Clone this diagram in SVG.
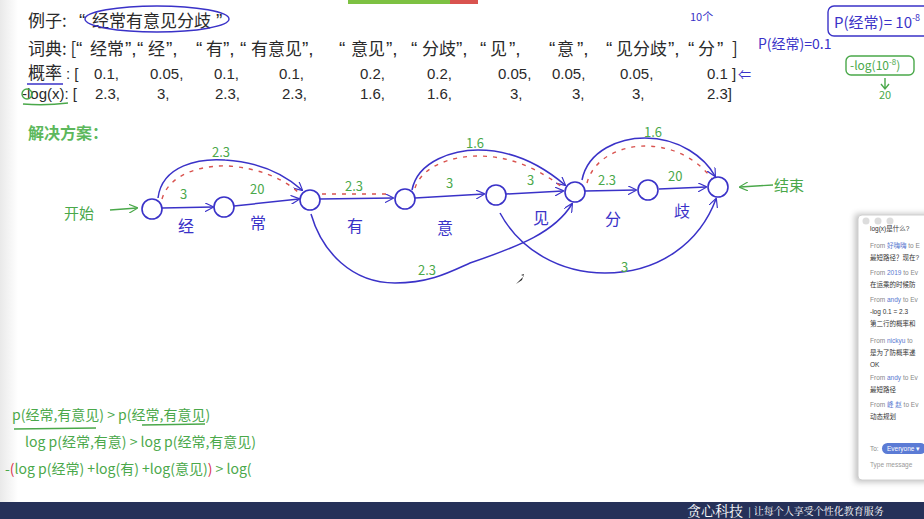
<svg xmlns="http://www.w3.org/2000/svg" width="924" height="519" viewBox="0 0 924 519">
<defs>
<style>
.cn{font-family:"Noto Sans CJK SC","Liberation Sans",sans-serif;fill:#2a2a2a;font-size:17px}
.q{font-family:"Liberation Sans",sans-serif;font-size:19px}
.num{font-family:"Liberation Sans","Noto Sans CJK SC",sans-serif;fill:#2a2a2a;font-size:15px}
.hb{font-family:"Noto Sans CJK SC",sans-serif;fill:#3a32c8}
.hg{font-family:"Noto Sans CJK SC",sans-serif;fill:#4aa84a}
.node{fill:#fff;stroke:#3a32c8;stroke-width:1.6}
.edge{fill:none;stroke:#3a32c8;stroke-width:1.5;marker-end:url(#ah)}
.red{fill:none;stroke:#d9534f;stroke-width:1.4;stroke-dasharray:4 6}
.gl{fill:none;stroke:#4aa84a;stroke-width:1.4}
.bl{fill:none;stroke:#3a32c8;stroke-width:1.4}
.chat{font-family:"Liberation Sans","Noto Sans CJK SC",sans-serif;font-size:6.5px;fill:#333}
.from{fill:#888}
.name{fill:#5a78d0}
</style>
<marker id="ah" viewBox="0 0 10 10" refX="9" refY="5" markerWidth="9" markerHeight="9" orient="auto" markerUnits="userSpaceOnUse">
<path d="M0,0 L10,5 L0,10" fill="none" stroke="#3a32c8" stroke-width="1.3"/>
</marker>
<marker id="ahg" viewBox="0 0 10 10" refX="9" refY="5" markerWidth="9" markerHeight="9" orient="auto" markerUnits="userSpaceOnUse">
<path d="M0,0 L10,5 L0,10" fill="none" stroke="#4aa84a" stroke-width="1.3"/>
</marker>
<linearGradient id="lg" x1="0" x2="1" y1="0" y2="0">
<stop offset="0" stop-color="#e9e9e9"/><stop offset="1" stop-color="#fff"/>
</linearGradient>
<filter id="sh" x="-20%" y="-10%" width="140%" height="120%"><feGaussianBlur stdDeviation="3"/></filter>
</defs>
<rect width="924" height="519" fill="#fff"/>
<rect width="18" height="502" fill="url(#lg)"/>
<rect x="348" y="0" width="102" height="4" fill="#7dc142"/>
<rect x="450" y="0" width="28" height="4" fill="#d9534f"/>

<!-- header text -->
<g id="header">
<text class="cn" y="27"><tspan x="28">例子:</tspan><tspan class="q" x="79">“</tspan><tspan x="92">经常有意见分歧</tspan><tspan class="q" x="216">”</tspan></text>
<ellipse cx="157" cy="19" rx="72" ry="13" class="bl"/>
<text class="cn" y="55"><tspan x="28">词典: [</tspan><tspan class="q" x="76">“</tspan><tspan x="90">经常</tspan><tspan class="q" x="125">”,</tspan><tspan class="q" x="137">“</tspan><tspan x="148">经</tspan><tspan class="q" x="166">”,</tspan><tspan class="q" x="196">“</tspan><tspan x="206">有</tspan><tspan class="q" x="223">”,</tspan><tspan class="q" x="240">“</tspan><tspan x="251">有意见</tspan><tspan class="q" x="302">”,</tspan><tspan class="q" x="339">“</tspan><tspan x="351">意见</tspan><tspan class="q" x="386">”,</tspan><tspan class="q" x="411">“</tspan><tspan x="422">分歧</tspan><tspan class="q" x="456">”,</tspan><tspan class="q" x="480">“</tspan><tspan x="490">见</tspan><tspan class="q" x="509">”,</tspan><tspan class="q" x="549">“</tspan><tspan x="557">意</tspan><tspan class="q" x="577">”,</tspan><tspan class="q" x="606">“</tspan><tspan x="616">见分歧</tspan><tspan class="q" x="668">”,</tspan><tspan class="q" x="688">“</tspan><tspan x="698">分</tspan><tspan class="q" x="717">”</tspan><tspan x="732">]</tspan></text>
<text class="cn" x="28" y="79">概率</text>
<path d="M27,84 L63,84" class="bl"/>
<text class="num" x="66" y="79">: [</text>
<text class="num" x="94" y="79">0.1,</text>
<text class="num" x="150" y="79">0.05,</text>
<text class="num" x="214" y="79">0.1,</text>
<text class="num" x="279" y="79">0.1,</text>
<text class="num" x="360" y="79">0.2,</text>
<text class="num" x="427" y="79">0.2,</text>
<text class="num" x="498" y="79">0.05,</text>
<text class="num" x="552" y="79">0.05,</text>
<text class="num" x="620" y="79">0.05,</text>
<text class="num" x="707" y="79">0.1 ]</text>
<text class="hb" x="738" y="79" font-size="13">⇐</text>
<text class="num" x="22" y="99">-log(x): [</text>
<circle cx="27" cy="94" r="5" class="gl"/>
<path d="M23,104 Q45,106 68,103" class="gl"/>
<text class="num" x="95" y="99">2.3,</text>
<text class="num" x="157" y="99">3,</text>
<text class="num" x="215" y="99">2.3,</text>
<text class="num" x="282" y="99">2.3,</text>
<text class="num" x="360" y="99">1.6,</text>
<text class="num" x="427" y="99">1.6,</text>
<text class="num" x="510" y="99">3,</text>
<text class="num" x="572" y="99">3,</text>
<text class="num" x="632" y="99">3,</text>
<text class="num" x="707" y="99">2.3]</text>
<text x="28" y="139" font-family="Noto Sans CJK SC,sans-serif" font-size="16" font-weight="bold" fill="#5cb85c">解决方案：</text>
</g>

<!-- top-right notes -->
<g id="notes">
<text class="hb" x="690" y="21" font-size="11">10个</text>
<text class="hb" x="758" y="49" font-size="14">P(经常)=0.1</text>
<rect x="828" y="6" width="104" height="30" rx="6" class="bl"/>
<text class="hb" x="834" y="28" font-size="15">P(经常)= 10<tspan font-size="9" dy="-7">-8</tspan></text>
<rect x="846" y="56" width="68" height="19" rx="5" class="gl"/>
<text class="hg" x="850" y="70" font-size="12">-log(10<tspan font-size="8" dy="-5">-8</tspan><tspan dy="5">)</tspan></text>
<path d="M885,78 L885,88 M881,84 L885,89 L889,84" class="gl"/>
<text class="hg" x="879" y="99" font-size="11">20</text>
</g>

<!-- connectors -->
<g id="connectors">
<path id="e-start" d="M110,210 L137,208" fill="none" stroke="#4aa84a" stroke-width="1.4" marker-end="url(#ahg)"/>
<path id="e-end" d="M773,185 L740,187" fill="none" stroke="#4aa84a" stroke-width="1.4" marker-end="url(#ahg)"/>
<path id="e01" class="edge" d="M162,208 L213,207"/>
<path id="e12" class="edge" d="M234,206 L299,199"/>
<path id="e02" class="edge" d="M158,198 C162,165 200,158 225,160 C260,162 285,175 302,190"/>
<path class="red" d="M162,199 C170,172 205,165 228,166 C258,168 282,178 298,192"/>
<path id="e23" class="edge" d="M320,199 L393,198"/>
<path class="red" d="M322,194 L390,194"/>
<path id="e34" class="edge" d="M415,198 L484,194"/>
<path id="e35" class="edge" d="M412,190 C418,160 455,150 478,150 C515,150 545,168 565,185"/>
<path class="red" d="M415,188 C422,166 452,156 478,156 C512,156 540,170 562,187"/>
<path id="e45" class="edge" d="M506,194 L563,191"/>
<path id="e56" class="edge" d="M585,191 L636,190"/>
<path id="e67" class="edge" d="M659,189 L706,187"/>
<path id="e57" class="edge" d="M582,180 C588,150 620,138 645,138 C680,138 705,158 715,176"/>
<path class="red" d="M587,183 C594,157 622,146 645,146 C676,146 700,162 713,180"/>
<path id="e25" class="edge" d="M311,214 C322,252 352,283 395,283 C430,283 450,272 470,263 C520,246 555,232 572,204"/>
<path id="e47" class="edge" d="M500,213 C520,250 560,273 605,273 C660,273 700,242 716,199"/>
</g>

<!-- nodes -->
<g id="n0"><circle cx="152" cy="209" r="10" class="node"/></g>
<g id="n1"><circle cx="224" cy="207" r="10" class="node"/></g>
<g id="n2"><circle cx="310" cy="200" r="10" class="node"/></g>
<g id="n3"><circle cx="405" cy="199" r="10" class="node"/></g>
<g id="n4"><circle cx="496" cy="195" r="10" class="node"/></g>
<g id="n5"><circle cx="575" cy="192" r="10" class="node"/></g>
<g id="n6"><circle cx="648" cy="190" r="10" class="node"/></g>
<g id="n7"><circle cx="718" cy="187" r="10" class="node"/></g>

<!-- labels -->
<g id="labels">
<text class="hg" x="64" y="219" font-size="15">开始</text>
<text class="hg" x="774" y="191" font-size="15">结束</text>
<text class="hg" x="180" y="199" font-size="13">3</text>
<text class="hg" x="250" y="194" font-size="13">20</text>
<text class="hg" x="212" y="157" font-size="13">2.3</text>
<text class="hg" x="345" y="191" font-size="13">2.3</text>
<text class="hg" x="446" y="188" font-size="13">3</text>
<text class="hg" x="466" y="148" font-size="13">1.6</text>
<text class="hg" x="527" y="185" font-size="13">3</text>
<text class="hg" x="598" y="185" font-size="13">2.3</text>
<text class="hg" x="668" y="181" font-size="13">20</text>
<text class="hg" x="644" y="137" font-size="13">1.6</text>
<text class="hg" x="418" y="275" font-size="13">2.3</text>
<text class="hg" x="621" y="272" font-size="13">3</text>
<text class="hb" x="178" y="232" font-size="16">经</text>
<text class="hb" x="250" y="229" font-size="16">常</text>
<text class="hb" x="347" y="232" font-size="16">有</text>
<text class="hb" x="437" y="234" font-size="16">意</text>
<text class="hb" x="533" y="224" font-size="16">见</text>
<text class="hb" x="605" y="225" font-size="16">分</text>
<text class="hb" x="674" y="217" font-size="16">歧</text>
</g>

<!-- bottom notes -->
<g id="bottom-notes">
<text class="hg" x="12" y="420" font-size="14">p(经常,有意见) &gt; p(经常,有意见)</text>
<path d="M14,429 L96,428" class="gl"/>
<path d="M142,425 L205,424" class="gl"/>
<text class="hg" x="25" y="447" font-size="14">log p(经常,有意) &gt; log p(经常,有意见)</text>
<text class="hg" x="5" y="474" font-size="14">-<tspan fill="#d9364f">(</tspan>log p(经常) +log(有) +log(意见)<tspan fill="#d9364f">)</tspan> &gt; log(</text>
</g>

<!-- cursor -->
<path d="M516,284 L524,276 L521,275 L524,274 L522,280 Z" fill="#222"/>

<!-- chat window -->
<g id="chat">
<rect x="855" y="214" width="80" height="268" fill="#000" opacity="0.25" filter="url(#sh)"/>
<rect x="858" y="215" width="70" height="265" rx="4" fill="#fff" stroke="#d0d0d0"/>
<circle cx="866" cy="221" r="3.5" fill="#ddd"/>
<circle cx="878" cy="221" r="3.5" fill="#ddd"/>
<circle cx="890" cy="221" r="3.5" fill="#ddd"/>
<text class="chat" x="870" y="231">log(x)是什么?</text>
<text class="chat" x="870" y="248"><tspan class="from">From </tspan><tspan class="name">好嗨嗨</tspan><tspan class="from"> to E</tspan></text>
<text class="chat" x="870" y="260">最短路径？现在?</text>
<text class="chat" x="870" y="275"><tspan class="from">From </tspan><tspan class="name">2019</tspan><tspan class="from"> to Ev</tspan></text>
<text class="chat" x="870" y="287">在运乘的时候防</text>
<text class="chat" x="870" y="302"><tspan class="from">From </tspan><tspan class="name">andy</tspan><tspan class="from"> to Ev</tspan></text>
<text class="chat" x="870" y="314">-log 0.1 = 2.3</text>
<text class="chat" x="870" y="326">第二行的概率和</text>
<text class="chat" x="870" y="343"><tspan class="from">From </tspan><tspan class="name">nickyu</tspan><tspan class="from"> to</tspan></text>
<text class="chat" x="870" y="355">是为了防概率递</text>
<text class="chat" x="870" y="367">OK</text>
<text class="chat" x="870" y="380"><tspan class="from">From </tspan><tspan class="name">andy</tspan><tspan class="from"> to Ev</tspan></text>
<text class="chat" x="870" y="392">最短路径</text>
<text class="chat" x="870" y="407"><tspan class="from">From </tspan><tspan class="name">峰 赵</tspan><tspan class="from"> to Ev</tspan></text>
<text class="chat" x="870" y="419">动态规划</text>
<text class="chat from" x="870" y="451">To:</text>
<rect x="882" y="443" width="44" height="11" rx="5.5" fill="#5b7bd5"/>
<text class="chat" x="887" y="451" style="fill:#fff">Everyone ▾</text>
<text class="chat" x="870" y="467" style="fill:#999">Type message</text>
</g>

<!-- footer -->
<g id="footer">
<rect x="0" y="502" width="924" height="17" fill="#263159"/>
<text x="687" y="516" font-family="Noto Serif CJK SC,Noto Sans CJK SC,serif" font-size="14" fill="#fff">贪心科技</text>
<text x="748" y="515" font-family="Noto Serif CJK SC,Noto Sans CJK SC,serif" font-size="10" fill="#fff">| 让每个人享受个性化教育服务</text>
</g>
</svg>
